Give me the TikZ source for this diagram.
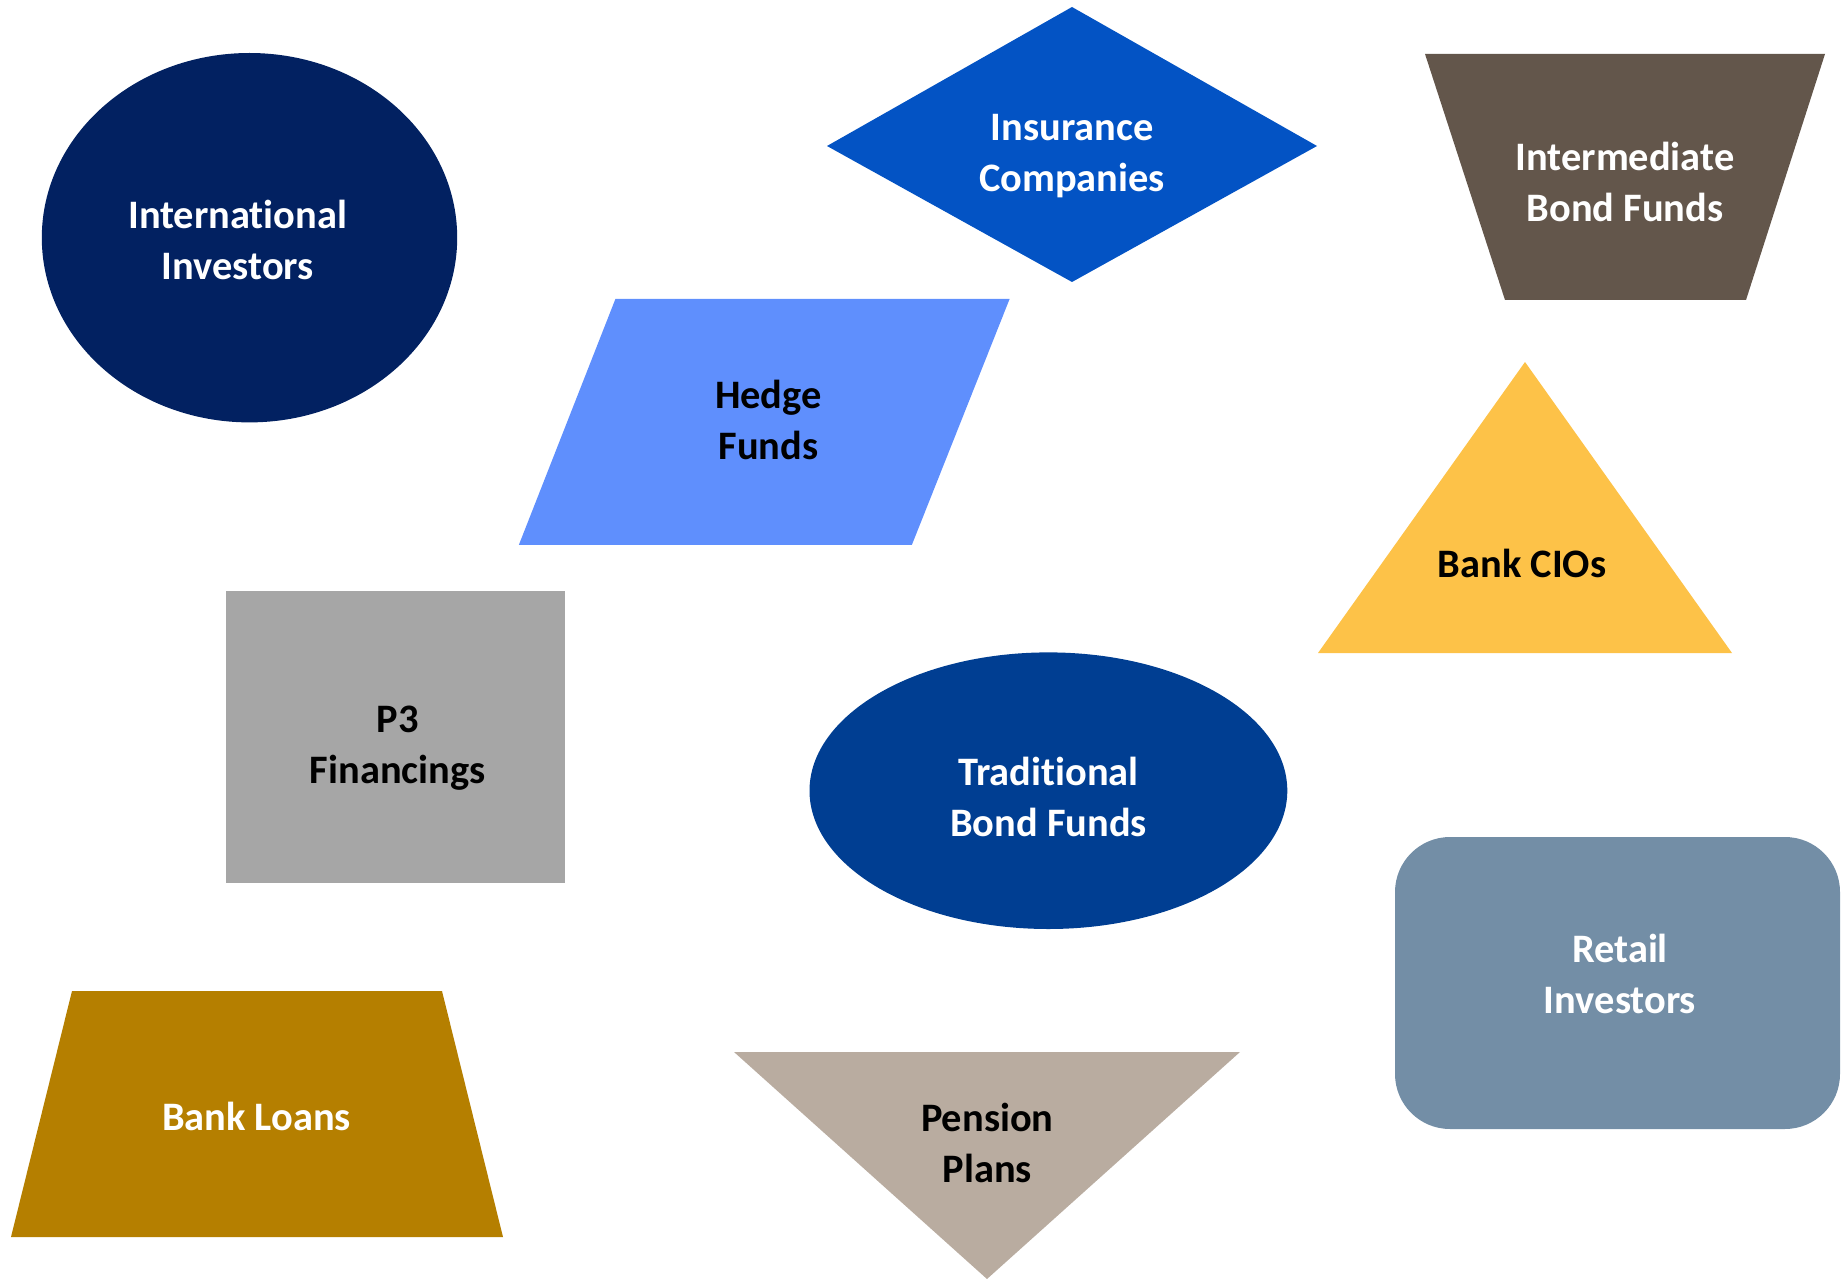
\documentclass[tikz,border=0pt]{standalone}
\usepackage{fontspec}
\setmainfont{Carlito}[Ligatures=NoCommon]
\definecolor{intlblue}{HTML}{022161}
\definecolor{insblue}{HTML}{0353C4}
\definecolor{intbrown}{HTML}{63564B}
\definecolor{hedgeblue}{HTML}{5F8FFD}
\definecolor{ciogold}{HTML}{FDC248}
\definecolor{ppgray}{HTML}{A6A6A6}
\definecolor{tradblue}{HTML}{003E92}
\definecolor{retailblue}{HTML}{738EA6}
\definecolor{loangold}{HTML}{B57F00}
\definecolor{pensiontan}{HTML}{B9ACA0}

\begin{document}
\begin{tikzpicture}[x=0.01cm,y=-0.01cm,
    lbl/.style={align=center,font=\fontsize{11.5}{14.5}\selectfont\bfseries,inner sep=0pt},
    lightlbl/.style={lbl,text=white},
    darklbl/.style={lbl,text=black}]
            \useasboundingbox (0,0) rectangle (1845,1279);
            
            \fill[intlblue] (249.5,237.7) ellipse [x radius=207.7, y radius=184.7];
            \node[lightlbl] (intl) at (237.7,239.5) {International\\Investors};
            
            \fill[insblue] (1072,7) -- (1317,146) -- (1072,282) -- (827,146) -- cycle;
            \node[lightlbl] (ins) at (1072,156.5) {Insurance\\Companies};
            
            \fill[intbrown] (1425,54) -- (1825,54) -- (1746,300) -- (1505,300) -- cycle;
            \node[lightlbl] (inter) at (1625,182.4) {Intermediate\\Bond Funds};
            
            \fill[hedgeblue] (615.4,299) -- (1009.6,299) -- (911.9,544.8) -- (518.9,544.8) -- cycle;
            \node[darklbl] (hedge) at (768.4,420) {Hedge\\Funds};
            
            \fill[ciogold] (1525,362) -- (1732,653) -- (1318,653) -- cycle;
            \node[darklbl,anchor=base] (cio) at (1522,577.7) {Bank CIOs};
            
            \fill[ppgray] (226,590.7) rectangle (564.8,882.5);
            \node[darklbl] (pthree) at (397.7,748.5) {P3\\Financings};
            
            \fill[tradblue] (1048.4,790.7) ellipse [x radius=238.9, y radius=138.3];
            \node[lightlbl] (trad) at (1048.4,797.2) {Traditional\\Bond Funds};
            
            \fill[retailblue,rounded corners=0.55cm] (1395,837) rectangle (1840,1129);
            \node[lightlbl] (retail) at (1620,973.7) {Retail\\Investors};
            
            \fill[loangold] (72,991) -- (442,991) -- (503,1237) -- (11,1237) -- cycle;
            \node[lightlbl,anchor=base] (loans) at (256.5,1130) {Bank Loans};
            
            \fill[pensiontan] (734,1052) -- (1240,1052) -- (987,1279) -- cycle;
            \node[darklbl] (pension) at (987.3,1142.6) {Pension\\Plans};
        \end{tikzpicture}
\end{document}
